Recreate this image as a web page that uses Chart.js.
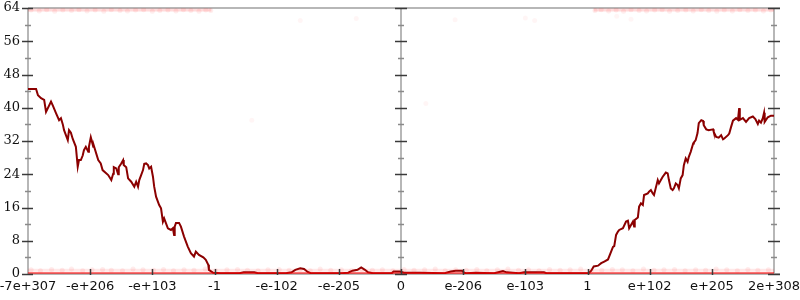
<!DOCTYPE html>
<html lang="en">
<head>
    <meta charset="UTF-8">
    <title>Chart</title>
    <script src="https://cdn.jsdelivr.net/npm/chart.js"></script>
    <style>
        body { margin: 0; background: #fff; }
        canvas { display: block; }
    </style>
</head>
<body>

<canvas id="myChart" width="800" height="300"></canvas>

<script>
    // tick labels of the symmetric-log x axis (one per unit, -6 .. 6)
    const xTickLabels = ['-7e+307', '-e+206', '-e+103', '-1', '-e-102', '-e-205', '0',
                         'e-206', 'e-103', '1', 'e+102', 'e+205', '2e+308'];
    const yTicks = [0, 8, 16, 24, 32, 40, 48, 56, 64];

    // main trace
    const lineX = [
        -6.00, -5.87, -5.84, -5.79, -5.74, -5.71, -5.63, -5.60, -5.55, -5.50, -5.47, -5.44, -5.42,
        -5.36, -5.34, -5.31, -5.28, -5.23, -5.20, -5.18, -5.15, -5.12, -5.10, -5.07, -5.03, -5.02,
        -4.99, -4.95, -4.94, -4.87, -4.83, -4.80, -4.71, -4.66, -4.63, -4.62, -4.58, -4.55, -4.54,
        -4.50, -4.47, -4.46, -4.42, -4.39, -4.34, -4.29, -4.26, -4.23, -4.21, -4.18, -4.15, -4.13,
        -4.10, -4.07, -4.05, -4.02, -3.99, -3.97, -3.94, -3.89, -3.86, -3.83, -3.81, -3.78, -3.75,
        -3.70, -3.67, -3.65, -3.64, -3.62, -3.57, -3.54, -3.49, -3.43, -3.38, -3.33, -3.30, -3.25,
        -3.18, -3.14, -3.10, -3.09, -3.02,
        -2.90, -2.60, -2.53, -2.36, -2.30, -1.85, -1.76, -1.70, -1.62, -1.56, -1.50, -1.45,
        -0.95, -0.85, -0.78, -0.70, -0.64, -0.58, -0.53, -0.45, -0.15, -0.12, -0.02, 0.05,
        0.30, 0.70, 0.80, 0.88, 0.98, 1.02, 1.05, 1.20, 1.50, 1.58, 1.64, 1.70, 1.90, 1.98,
        2.30, 2.34, 2.57, 3.02,
        3.06, 3.10, 3.17, 3.22, 3.27, 3.33, 3.38, 3.41, 3.43, 3.46, 3.49, 3.51, 3.57, 3.62,
        3.65, 3.67, 3.70, 3.73, 3.75, 3.76, 3.81, 3.83, 3.86, 3.89, 3.91, 3.97, 3.99, 4.02,
        4.05, 4.07, 4.13, 4.15, 4.18, 4.21, 4.26, 4.29, 4.31, 4.34, 4.37, 4.39, 4.42, 4.45,
        4.47, 4.50, 4.53, 4.55, 4.58, 4.61, 4.63, 4.66, 4.70, 4.71, 4.74, 4.77, 4.79, 4.83,
        4.86, 4.87, 4.91, 4.95, 5.02, 5.03, 5.07, 5.11, 5.15, 5.18, 5.20, 5.26, 5.28, 5.31,
        5.34, 5.39, 5.42, 5.44, 5.45, 5.50, 5.55, 5.60, 5.66, 5.70, 5.74, 5.76, 5.79, 5.82,
        5.84, 5.85, 5.90, 5.95, 6.00
    ];
    const lineY = [
        44.5, 44.5, 43.0, 42.3, 41.9, 39.0, 41.5, 40.5, 38.7, 37.0, 37.5, 36.0, 34.6,
        32.2, 34.6, 34.0, 32.5, 30.6, 25.8, 27.4, 27.4, 28.5, 29.8, 30.6, 29.4, 30.6,
        32.9, 30.6, 30.8, 27.4, 26.6, 25.0, 23.8, 22.6, 24.1, 25.7, 25.4, 24.0, 25.7,
        26.6, 27.4, 26.2, 25.7, 23.0, 22.2, 21.0, 22.2, 21.0, 22.6, 23.8, 25.0, 26.5,
        26.6, 26.2, 25.4, 25.8, 23.4, 21.0, 18.6, 16.6, 15.8, 12.6, 13.4, 12.2, 11.0,
        10.6, 11.0, 9.4, 11.4, 12.3, 12.3, 11.4, 9.0, 6.6, 5.0, 4.2, 5.4, 4.6,
        4.0, 3.4, 2.2, 1.0, 0.3,
        0.2, 0.2, 0.4, 0.4, 0.2, 0.2, 0.4, 1.0, 1.4, 1.2, 0.5, 0.2,
        0.2, 0.3, 0.8, 1.0, 1.6, 1.0, 0.4, 0.2, 0.2, 0.6, 0.6, 0.3,
        0.3, 0.2, 0.6, 0.8, 0.8, 0.3, 0.2, 0.3, 0.2, 0.5, 0.7, 0.4, 0.2, 0.4,
        0.4, 0.2, 0.2, 0.2,
        0.8, 1.8, 2.0, 2.6, 3.0, 3.5, 5.4, 6.5, 6.7, 9.4, 10.2, 10.6, 11.0, 12.6,
        12.8, 11.0, 11.8, 12.6, 11.4, 13.0, 13.6, 16.2, 17.0, 16.6, 19.0, 19.4, 19.8, 20.2,
        19.4, 19.0, 22.6, 21.8, 22.6, 23.4, 24.4, 24.2, 22.6, 20.6, 20.2, 20.6, 21.8, 21.4,
        20.6, 23.0, 23.8, 26.2, 27.8, 27.0, 28.2, 29.4, 31.4, 31.6, 32.2, 33.9, 36.3, 37.0,
        36.8, 35.8, 34.8, 34.6, 34.8, 34.2, 33.0, 32.8, 33.4, 32.4, 32.6, 33.4, 33.8, 35.4,
        36.9, 37.5, 37.1, 39.9, 37.1, 37.5, 36.6, 37.5, 37.9, 37.3, 36.1, 36.9, 36.4, 37.5,
        38.8, 36.6, 37.7, 38.1, 38.1
    ];

    // faint red cloud hugging y = 0 across the whole axis
    const bottomBandX = [-6, 6];
    const bottomBandY = [0.2, 0.9];
    const bottomCloudX = [
        -5.95, -5.80, -5.62, -5.45, -5.30, -5.12, -4.97, -4.80, -4.66, -4.48, -4.31, -4.15,
        -3.98, -3.82, -3.66, -3.49, -3.33, -3.15, -2.98, -2.80, -2.63, -2.47, -2.30, -2.14,
        -1.96, -1.80, -1.63, -1.46, -1.30, -1.13, -0.96, -0.80, -0.63, -0.46, -0.30, -0.13,
        0.05, 0.21, 0.38, 0.55, 0.71, 0.88, 1.05, 1.22, 1.38, 1.55, 1.72, 1.89,
        2.05, 2.22, 2.39, 2.56, 2.72, 2.89, 3.06, 3.23, 3.40, 3.56, 3.73, 3.90,
        4.07, 4.23, 4.40, 4.57, 4.74, 4.90, 5.07, 5.24, 5.41, 5.58, 5.74, 5.91
    ];
    const bottomCloudY = [
        1.0, 0.8, 1.1, 0.9, 1.2, 0.8, 1.0, 1.1, 0.9, 0.8, 1.2, 1.0,
        0.9, 1.1, 0.8, 1.0, 0.9, 1.2, 0.8, 1.0, 1.1, 0.9, 0.8, 1.0,
        1.1, 0.9, 1.0, 0.8, 1.2, 0.9, 1.0, 0.8, 1.1, 0.9, 1.0, 0.8,
        1.1, 0.9, 1.0, 1.2, 0.8, 1.0, 0.9, 1.1, 0.8, 1.0, 1.2, 0.9,
        1.0, 0.8, 1.1, 0.9, 1.0, 1.2, 0.8, 0.9, 1.1, 1.0, 0.8, 1.2,
        0.9, 1.0, 1.1, 0.8, 1.0, 0.9, 1.2, 1.0, 0.8, 1.1, 0.9, 1.0
    ];

    // faint red smear just under y = 64, only where the trace is high
    const topBandLeftX = [-6, -3.05];
    const topBandRightX = [3.1, 6];
    const topBandY = 63.5;
    const topCloudX = [
        -5.95, -5.82, -5.70, -5.57, -5.44, -5.30, -5.18, -5.05, -4.92, -4.78, -4.66, -4.52,
        -4.40, -4.27, -4.14, -4.00, -3.88, -3.75, -3.62, -3.50, -3.38, -3.25, -3.14, -3.06,
        3.12, 3.22, 3.34, 3.46, 3.58, 3.70, 3.83, 3.95, 4.08, 4.20, 4.32, 4.45, 4.58, 4.70,
        4.83, 4.95, 5.08, 5.20, 5.33, 5.45, 5.58, 5.70, 5.83, 5.95
    ];
    const topCloudY = [
        63.5, 63.3, 63.6, 63.2, 63.5, 63.4, 63.6, 63.3, 63.5, 63.2, 63.6, 63.4,
        63.3, 63.5, 63.6, 63.2, 63.4, 63.5, 63.3, 63.6, 63.4, 63.2, 63.5, 63.4,
        63.4, 63.6, 63.3, 63.5, 63.2, 63.6, 63.4, 63.3, 63.5, 63.6, 63.2, 63.4,
        63.5, 63.3, 63.6, 63.4, 63.2, 63.5, 63.3, 63.6, 63.4, 63.5, 63.3, 63.5
    ];

    // a few stray, barely visible points
    const strayX = [-1.62, -0.72, 0.87, 2.0, 2.15, 3.47, 3.7, -2.4, 0.4];
    const strayY = [61.0, 61.5, 61.2, 61.6, 61.0, 62.0, 61.3, 37.0, 41.0];

    const toPoints = (xs, ys) => xs.map((x, i) => ({ x: x, y: ys[i] }));
    const flat = (xs, y) => xs.map((x) => ({ x: x, y: y }));

    function drawAxisLines(chart) {
        const ctx = chart.ctx;
        const a = chart.chartArea;
        const mid = chart.scales.x.getPixelForValue(0);
        ctx.save();
        ctx.strokeStyle = '#b7b7b7';
        ctx.lineWidth = 2;
        ctx.beginPath();
        ctx.moveTo(a.left, a.top); ctx.lineTo(a.right + 6, a.top);
        ctx.moveTo(a.left, a.bottom); ctx.lineTo(a.right + 6, a.bottom);
        ctx.moveTo(a.left, a.top); ctx.lineTo(a.left, a.bottom);
        ctx.moveTo(mid, a.top); ctx.lineTo(mid, a.bottom);
        ctx.moveTo(a.right, a.top); ctx.lineTo(a.right, a.bottom);
        ctx.stroke();
        ctx.restore();
    }

    function drawTickMarks(chart) {
        const ctx = chart.ctx;
        const a = chart.chartArea;
        const xs = chart.scales.x;
        const ys = chart.scales.y;
        const mid = xs.getPixelForValue(0);
        const axes = [[a.left, 6, 5], [mid, 6, 6], [a.right, 6, 6]];
        ctx.save();
        ctx.lineWidth = 1.5;
        yTicks.forEach((v, i) => {
            const py = Math.round(ys.getPixelForValue(v)) + 0.5;
            axes.forEach((ax) => {
                const px = ax[0];
                ctx.strokeStyle = '#3a3a3a';
                ctx.beginPath(); ctx.moveTo(px - ax[1], py); ctx.lineTo(px + ax[2], py); ctx.stroke();
                if (i < yTicks.length - 1) {
                    const pm = Math.round(ys.getPixelForValue(v + 4)) + 0.5;
                    ctx.strokeStyle = '#8a8a8a';
                    ctx.beginPath(); ctx.moveTo(px - 3, pm); ctx.lineTo(px + 3, pm); ctx.stroke();
                }
            });
        });
        ctx.strokeStyle = '#3a3a3a';
        for (let v = -5; v <= 5; v++) {
            const px = Math.round(xs.getPixelForValue(v)) + 0.5;
            ctx.beginPath(); ctx.moveTo(px, a.bottom + 1); ctx.lineTo(px, a.bottom - 5); ctx.stroke();
        }
        ctx.restore();
    }

    // axis frame: grey lines under the data, ticks on top
    const axisFrame = {
        id: 'axisFrame',
        beforeDatasetsDraw(chart) { drawAxisLines(chart); },
        afterDatasetsDraw(chart) { drawTickMarks(chart); }
    };

    function createChart() {
        const ctx = document.getElementById('myChart').getContext('2d');

        new Chart(ctx, {
            type: 'scatter',
            data: {
                datasets: [
                    {
                        data: toPoints(strayX, strayY),
                        pointRadius: 2.5,
                        pointBorderWidth: 0,
                        pointBackgroundColor: 'rgba(255, 0, 0, 0.04)'
                    },
                    {
                        // soft haze just above the zero strip
                        data: flat(bottomBandX, bottomBandY[1]),
                        showLine: true,
                        pointRadius: 0,
                        borderColor: 'rgba(255, 0, 0, 0.09)',
                        borderWidth: 3
                    },
                    {
                        data: toPoints(bottomCloudX, bottomCloudY),
                        pointRadius: 2.5,
                        pointBorderWidth: 0,
                        pointBackgroundColor: 'rgba(255, 40, 40, 0.09)'
                    },
                    {
                        data: flat(topBandLeftX, topBandY),
                        showLine: true,
                        pointRadius: 0,
                        borderColor: 'rgba(255, 0, 0, 0.14)',
                        borderWidth: 3
                    },
                    {
                        data: flat(topBandRightX, topBandY),
                        showLine: true,
                        pointRadius: 0,
                        borderColor: 'rgba(255, 0, 0, 0.14)',
                        borderWidth: 3
                    },
                    {
                        data: toPoints(topCloudX, topCloudY),
                        pointRadius: 2.5,
                        pointBorderWidth: 0,
                        pointBackgroundColor: 'rgba(255, 30, 30, 0.08)'
                    },
                    {
                        // solid red strip along the zero line
                        data: flat(bottomBandX, bottomBandY[0]),
                        showLine: true,
                        pointRadius: 0,
                        borderColor: 'rgba(255, 0, 0, 0.55)',
                        borderWidth: 2.5
                    },
                    {
                        data: toPoints(lineX, lineY),
                        showLine: true,
                        pointRadius: 0,
                        borderColor: '#8b0000',
                        borderWidth: 2,
                        tension: 0
                    }
                ]
            },
            options: {
                responsive: false,
                animation: false,
                layout: { padding: { top: 8, right: 26, left: 0, bottom: 0 } },
                plugins: { legend: { display: false }, tooltip: { enabled: false } },
                scales: {
                    x: {
                        type: 'linear',
                        min: -6,
                        max: 6,
                        afterFit: (s) => { s.height = 26; s.paddingLeft = 0; s.paddingRight = 0; },
                        grid: { display: false, drawTicks: false },
                        border: { display: false },
                        ticks: {
                            stepSize: 1,
                            autoSkip: false,
                            maxRotation: 0,
                            padding: 5,
                            color: '#111',
                            font: { family: 'DejaVu Sans', size: 13 },
                            callback: (v) => xTickLabels[Math.round(v) + 6]
                        }
                    },
                    y: {
                        min: 0,
                        max: 64,
                        afterFit: (s) => { s.width = 28; s.paddingTop = 0; s.paddingBottom = 0; },
                        grid: { display: false, drawTicks: false },
                        border: { display: false },
                        ticks: {
                            stepSize: 8,
                            padding: 8,
                            color: '#111',
                            font: { family: 'DejaVu Serif', size: 13 }
                        }
                    }
                }
            },
            plugins: [axisFrame]
        });
    }

    document.addEventListener('DOMContentLoaded', createChart);
</script>

</body>
</html>
